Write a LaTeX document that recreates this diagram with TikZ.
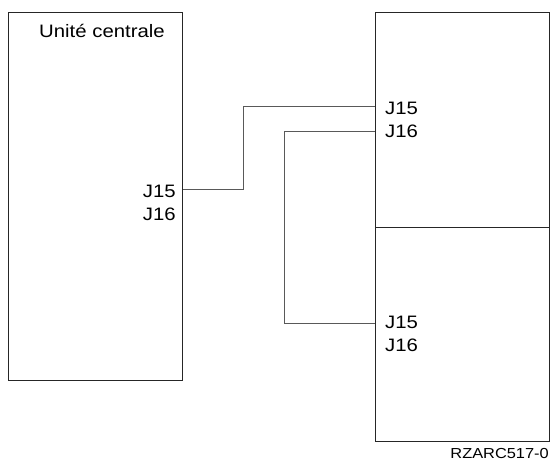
\documentclass[tikz,border=0pt]{standalone}
\usepackage{fontspec}
\setmainfont{Liberation Sans}
\usetikzlibrary{positioning}

\begin{document}
\begin{tikzpicture}[x=1pt, y=-1pt,
        unit/.style={draw=black!85, line width=0.9pt, rectangle, inner sep=0pt, minimum width=174pt},
        lbl/.style={inner sep=0pt, xscale=1.13, font=\fontsize{18}{20}\selectfont},
        wire/.style={draw=black!65, line width=0.9pt}]
        \useasboundingbox (0,0) rectangle (551,468);

        % Draw the central unit and the two drawers
        \node[unit, minimum height=368pt] (cpu) at (95.5,196) {};
        \node[unit, minimum height=215pt] (top) at (462,119.5) {};
        \node[unit, minimum height=214pt] (bot) at (462,334) {};

        % Box titles and connector names
        \node[lbl, anchor=base west] (cpuname) at (39,38) {Unité centrale};
        \foreach \n/\y in {15/197, 16/220}{
            \node[lbl, anchor=base east] (cpuJ\n) at (176,\y) {J\n};
            \node[lbl, anchor=base west] (topJ\n) at (385,\y-82) {J\n};
            \node[lbl, anchor=base west] (botJ\n) at (385,\y+131) {J\n};
        }
        \node[lbl, anchor=base east, font=\fontsize{14.5}{16}\selectfont] (figid) at (549,458) {RZARC517-0};

        % Cable end points on the box edges
        \coordinate (cpuport) at (cpu.east |- 0,189);
        \coordinate (topport1) at (top.west |- 0,106);
        \coordinate (topport2) at (top.west |- 0,131);
        \coordinate (botport) at (bot.west |- 0,323);

        % Draw the cables
        \draw[wire] (cpuport) -- ++(60,0) |- (topport1);
        \draw[wire] (topport2) -- ++(-90,0) |- (botport);
    \end{tikzpicture}
\end{document}
